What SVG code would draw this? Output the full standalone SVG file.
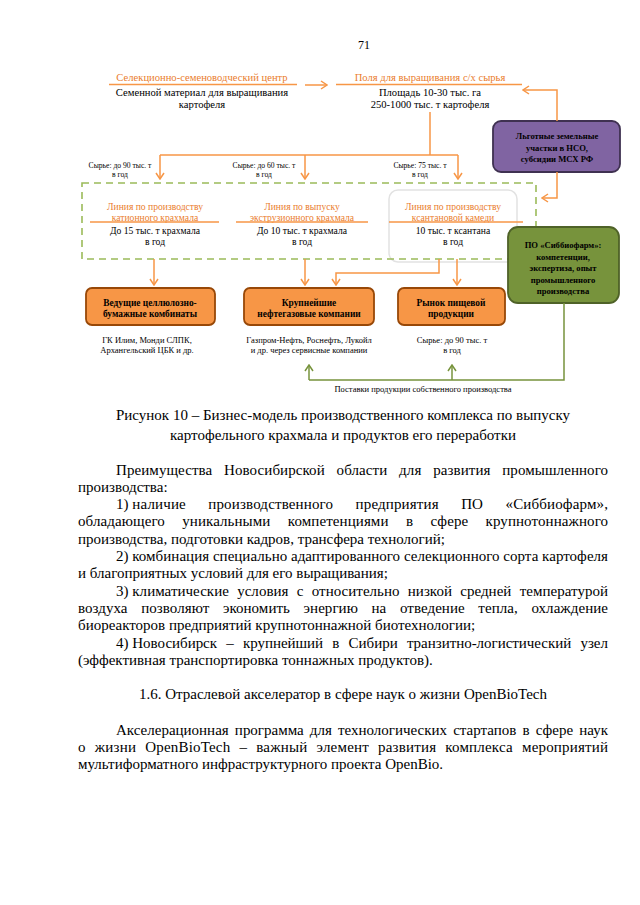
<svg xmlns="http://www.w3.org/2000/svg" width="640" height="905" viewBox="0 0 640 905">
<defs>
<marker id="ao" viewBox="0 0 8 10" refX="7" refY="5" markerWidth="8" markerHeight="10" markerUnits="userSpaceOnUse" orient="auto"><path d="M1,1 L7,5 L1,9" fill="none" stroke="#F79646" stroke-width="1.5"/></marker>
<marker id="ag" viewBox="0 0 8 10" refX="7" refY="5" markerWidth="8" markerHeight="10" markerUnits="userSpaceOnUse" orient="auto"><path d="M1,1 L7,5 L1,9" fill="none" stroke="#77933C" stroke-width="1.5"/></marker>
<style>
text{font-family:"Liberation Serif","Times New Roman",serif;fill:#000}
.body{font-size:15px}
.c{text-anchor:middle}
.ot{fill:#EA7D2E}
.h1{font-size:10.6px}
.h2{font-size:9.6px}
.sm{font-size:7.6px}
.sm2{font-size:8.5px}
.bx{font-size:9.4px;font-weight:bold}
.bx2{font-size:8.6px;font-weight:bold}
.ol{stroke:#F79646;stroke-width:1.5;fill:none}
.oa{stroke:#F79646;stroke-width:1.5;fill:none;marker-end:url(#ao)}
.ga{stroke:#77933C;stroke-width:1.5;fill:none;marker-end:url(#ag)}
.gl{stroke:#77933C;stroke-width:1.5;fill:none}
.ob{fill:#F79646;stroke:#984807;stroke-width:1.8}
</style>
</defs>
<rect width="640" height="905" fill="#fff"/>
<text class="body c" x="364" y="49" style="font-size:12px">71</text>

<g id="seed">
<text class="h1 c ot" x="202" y="81">Селекционно-семеноводческий центр</text>
<line class="ol" x1="109" y1="84.5" x2="297" y2="84.5"/>
<text class="h1 c" x="202" y="96">Семенной материал для выращивания</text>
<text class="h1 c" x="202" y="108">картофеля</text>
</g>
<g id="fields">
<text class="h1 c ot" x="430" y="81">Поля для выращивания с/х сырья</text>
<line class="ol" x1="336" y1="84.5" x2="522" y2="84.5"/>
<text class="h1 c" x="430" y="96">Площадь 10-30 тыс. га</text>
<text class="h1 c" x="430" y="108">250-1000 тыс. т картофеля</text>
</g>
<g id="land">
<rect x="493" y="121" width="127" height="51" rx="8" fill="#8064A2" stroke="#3F3151" stroke-width="1.8"/>
<text class="bx2 c" x="557" y="139">Льготные земельные</text>
<text class="bx2 c" x="557" y="150.5">участки в НСО,</text>
<text class="bx2 c" x="557" y="162">субсидии МСХ РФ</text>
</g>

<g id="lines">
<rect x="389" y="190" width="128" height="72" rx="9" fill="#fff" stroke="#E2E2E2" stroke-width="1.5"/>
<rect x="82" y="183" width="454" height="76" fill="none" stroke="#9BBB59" stroke-width="1.6" stroke-dasharray="7 5"/>
</g>
<g id="line1">
<text class="h2 c ot" x="155" y="210">Линия по производству</text>
<text class="h2 c ot" x="155" y="221">катионного крахмала</text>
<line class="ol" x1="90" y1="222" x2="219" y2="222"/>
<text class="h2 c" x="155" y="234">До 15 тыс. т крахмала</text>
<text class="h2 c" x="155" y="245">в год</text>
</g>
<g id="line2">
<text class="h2 c ot" x="302" y="210">Линия по выпуску</text>
<text class="h2 c ot" x="302" y="221">экструзионного крахмала</text>
<line class="ol" x1="236" y1="222" x2="368" y2="222"/>
<text class="h2 c" x="302" y="234">До 10 тыс. т крахмала</text>
<text class="h2 c" x="302" y="245">в год</text>
</g>
<g id="line3">
<text class="h2 c ot" x="453" y="210">Линия по производству</text>
<text class="h2 c ot" x="453" y="221">ксантановой камеди</text>
<line class="ol" x1="389" y1="222" x2="523" y2="222"/>
<text class="h2 c" x="453" y="234">10 тыс. т ксантана</text>
<text class="h2 c" x="453" y="245">в год</text>
</g>

<g id="sibbio">
<rect x="508" y="227" width="111" height="76" rx="10" fill="#77933C" stroke="#4F6228" stroke-width="1.8"/>
<text class="bx2 c" x="563" y="248">ПО «Сиббиофарм»:</text>
<text class="bx2 c" x="563" y="259.5">компетенции,</text>
<text class="bx2 c" x="563" y="271">экспертиза, опыт</text>
<text class="bx2 c" x="563" y="282.5">промышленного</text>
<text class="bx2 c" x="563" y="294">производства</text>
</g>

<g id="pulp">
<rect class="ob" x="86" y="288" width="129" height="37" rx="6"/>
<text class="bx c" x="150" y="306">Ведущие целлюлозно-</text>
<text class="bx c" x="150" y="317">бумажные комбинаты</text>
<text class="sm2 c" x="147" y="343">ГК Илим, Монди СЛПК,</text>
<text class="sm2 c" x="147" y="353">Архангельский ЦБК и др.</text>
</g>
<g id="oil">
<rect class="ob" x="244" y="288" width="130" height="37" rx="6"/>
<text class="bx c" x="309" y="306">Крупнейшие</text>
<text class="bx c" x="309" y="317">нефтегазовые  компании</text>
<text class="sm2 c" x="309" y="343">Газпром-Нефть, Роснефть, Лукойл</text>
<text class="sm2 c" x="309" y="353">и др. через сервисные компании</text>
</g>
<g id="food">
<rect class="ob" x="398" y="288" width="107" height="37" rx="6"/>
<text class="bx c" x="451" y="306">Рынок пищевой</text>
<text class="bx c" x="451" y="317">продукции</text>
<text class="sm2 c" x="452" y="343">Сырье: до 90 тыс. т</text>
<text class="sm2 c" x="452" y="353">в год</text>
</g>

<g id="connectors">
<line class="oa" x1="305" y1="85" x2="327" y2="85"/>
<polyline class="oa" points="557,121 557,90 523,90"/>
<polyline class="ol" points="430,112 430,155"/>
<polyline class="ol" points="160,155 458,155"/>
<line class="oa" x1="160" y1="155" x2="160" y2="179"/>
<line class="oa" x1="305" y1="155" x2="305" y2="179"/>
<line class="oa" x1="458" y1="155" x2="458" y2="179"/>
<polyline class="oa" points="557,172 557,198 542,198"/>
<line class="oa" x1="154" y1="259" x2="154" y2="285"/>
<line class="oa" x1="305" y1="259" x2="305" y2="285"/>
<polyline class="oa" points="439,259 439,273 336,273 336,285"/>
<line class="oa" x1="457" y1="259" x2="457" y2="285"/>
<polyline class="gl" points="564,303 564,380 309,380"/>
<line class="ga" x1="309" y1="380" x2="309" y2="365"/>
<line class="ga" x1="452" y1="380" x2="452" y2="365"/>
<text class="sm" x="120" y="167.5" text-anchor="middle">Сырье: до 90 тыс. т</text>
<text class="sm" x="120" y="176.5" text-anchor="middle">в год</text>
<text class="sm" x="264" y="167.5" text-anchor="middle">Сырье: до 60 тыс. т</text>
<text class="sm" x="264" y="176.5" text-anchor="middle">в год</text>
<text class="sm" x="420" y="167.5" text-anchor="middle">Сырье: 75 тыс. т</text>
<text class="sm" x="420" y="176.5" text-anchor="middle">в год</text>
<text class="sm2" x="423" y="392" text-anchor="middle">Поставки продукции собственного производства</text>
</g>

<g id="caption">
<text class="body c" x="343" y="420">Рисунок 10 – Бизнес-модель производственного комплекса по выпуску</text>
<text class="body c" x="343" y="440">картофельного крахмала и продуктов его переработки</text>
</g>
<g id="bodytext">
<text class="body" x="116" y="474.5" textLength="492" lengthAdjust="spacing" word-spacing="8">Преимущества Новосибирской области для развития промышленного</text>
<text class="body" x="78" y="491.8">производства:</text>
<text class="body" x="116" y="509.1">1)</text>
<text class="body" x="132.3" y="509.1" textLength="475.7" lengthAdjust="spacing" word-spacing="18.5">наличие производственного предприятия ПО «Сиббиофарм»,</text>
<text class="body" x="78" y="526.4" textLength="530" lengthAdjust="spacing" word-spacing="13.5">обладающего уникальными компетенциями в сфере крупнотоннажного</text>
<text class="body" x="78" y="543.7">производства, подготовки кадров, трансфера технологий;</text>
<text class="body" x="116" y="561">2)</text>
<text class="body" x="132.3" y="561" textLength="475.7" lengthAdjust="spacing">комбинация специально адаптированного селекционного сорта картофеля</text>
<text class="body" x="78" y="578.3">и благоприятных условий для его выращивания;</text>
<text class="body" x="116" y="595.6">3)</text>
<text class="body" x="132.3" y="595.6" textLength="475.7" lengthAdjust="spacing" word-spacing="4.5">климатические условия с относительно низкой средней температурой</text>
<text class="body" x="78" y="612.9" textLength="530" lengthAdjust="spacing" word-spacing="9.8">воздуха позволяют экономить энергию на отведение тепла, охлаждение</text>
<text class="body" x="78" y="630.2">биореакторов предприятий крупнотоннажной биотехнологии;</text>
<text class="body" x="116" y="647.5">4)</text>
<text class="body" x="132.3" y="647.5" textLength="475.7" lengthAdjust="spacing" word-spacing="5.5">Новосибирск – крупнейший в Сибири транзитно-логистический узел</text>
<text class="body" x="78" y="664.8">(эффективная транспортировка тоннажных продуктов).</text>
<text class="body c" x="343" y="699">1.6. Отраслевой акселератор в сфере наук о жизни OpenBioTech</text>
<text class="body" x="116" y="734.5" textLength="492" lengthAdjust="spacing" word-spacing="2.4">Акселерационная программа для технологических стартапов в сфере наук</text>
<text class="body" x="78" y="751.8" textLength="530" lengthAdjust="spacing" word-spacing="5.2">о жизни OpenBioTech – важный элемент развития комплекса мероприятий</text>
<text class="body" x="78" y="769.1">мультиформатного инфраструктурного проекта OpenBio.</text>
</g>
</svg>
